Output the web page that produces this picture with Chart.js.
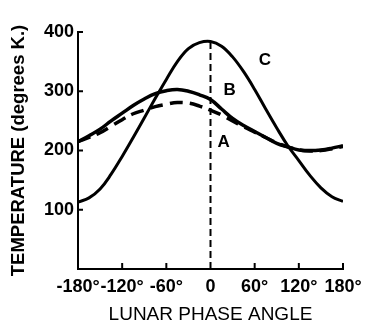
<!DOCTYPE html>
<html>
<head>
<meta charset="utf-8">
<script src="https://cdn.jsdelivr.net/npm/chart.js@4.4.0/dist/chart.umd.min.js"></script>
<style>
html,body{margin:0;padding:0;background:#fff;}
#wrap{width:365px;height:326px;}
</style>
</head>
<body>
<div id="wrap"><canvas id="c" width="365" height="326"></canvas></div>
<script>
const angles = [-180,-165,-150,-135,-120,-105,-90,-75,-60,-45,-30,-15,0,15,30,45,60,75,90,105,120,135,150,165,180];
const tempA = [215,222,230,241,252,262,268,274,278,281,280,275,268,260,250,240,231,222,213,206,201,199,200,203,207];
const tempB = [215,225,236,250,263,276,287,296,301,303,300,294,286,270,254,242,232,222,212,206,201,200,201,204,208];
const tempC = [113,120,135,160,190,222,255,288,320,350,372,382,384,376,358,333,303,270,238,208,183,158,137,122,114];
const xTickValues = [-180,-120,-60,0,60,120,180];
const xTickLabels = ['-180°','-120°','-60°','0','60°','120°','180°'];
const yTickValues = [100,200,300,400];
const yTickLabels = ['100','200','300','400'];
const phaseLine = [{x:0,y:0},{x:0,y:384}];
const curveLabels = [{t:'C',x:74,y:352},{t:'B',x:26,y:302},{t:'A',x:18,y:214}];

const pts = arr => angles.map((a,i)=>({x:a,y:arr[i]}));
const FONT = "'Liberation Sans', Arial, sans-serif";

const decor = {
  id:'decor',
  afterDraw(chart){
    const ctx = chart.ctx, xs = chart.scales.x, ys = chart.scales.y;
    ctx.save();
    ctx.strokeStyle = '#000';
    ctx.lineWidth = 2;
    const x0 = xs.getPixelForValue(-180);
    const y0 = ys.getPixelForValue(0);
    yTickValues.forEach(v=>{
      const y = ys.getPixelForValue(v);
      ctx.beginPath(); ctx.moveTo(x0, y); ctx.lineTo(x0+5, y); ctx.stroke();
    });
    xTickValues.forEach(v=>{
      if (v===0 || v===-180) return;
      const x = xs.getPixelForValue(v);
      ctx.beginPath(); ctx.moveTo(x, y0); ctx.lineTo(x, y0-6); ctx.stroke();
    });
    ctx.fillStyle = '#000';
    ctx.font = "bold 17px " + FONT;
    ctx.textAlign = 'center';
    ctx.textBaseline = 'middle';
    curveLabels.forEach(l=>{
      ctx.fillText(l.t, xs.getPixelForValue(l.x), ys.getPixelForValue(l.y));
    });
    ctx.restore();
  }
};

new Chart(document.getElementById('c'), {
  type:'line',
  data:{
    datasets:[
      {label:'C', data:pts(tempC), borderColor:'#000', borderWidth:3, pointRadius:0, tension:0.4, fill:false},
      {label:'B', data:pts(tempB), borderColor:'#000', borderWidth:3.5, pointRadius:0, tension:0.4, fill:false},
      {label:'A', data:pts(tempA), borderColor:'#000', borderWidth:3.5, borderDash:[13,7], pointRadius:0, tension:0.4, fill:false},
      {label:'phase', data:phaseLine, borderColor:'#000', borderWidth:2, borderDash:[7,4], pointRadius:0, tension:0, fill:false}
    ]
  },
  options:{
    responsive:false,
    animation:false,
    layout:{padding:{top:32,right:22,left:8,bottom:0}},
    plugins:{legend:{display:false}, tooltip:{enabled:false}},
    scales:{
      x:{
        type:'linear', min:-180, max:180,
        afterBuildTicks(s){ s.ticks = xTickValues.map(v=>({value:v})); },
        ticks:{
          color:'#000', font:{family:FONT, size:18, weight:'bold'}, padding:7, maxRotation:0, autoSkip:false,
          callback:(v)=>{ const i = xTickValues.indexOf(v); return i>=0 ? xTickLabels[i] : ''; }
        },
        grid:{display:false, drawTicks:false},
        border:{display:true, color:'#000', width:2},
        title:{display:true, text:'LUNAR PHASE ANGLE', color:'#000', font:{family:FONT, size:19}, padding:{top:1,bottom:0}},
        afterFit(s){ s.height = 326 - 269; s.paddingLeft = 0; s.paddingRight = 0; }
      },
      y:{
        type:'linear', min:0, max:400,
        afterBuildTicks(s){ s.ticks = [0].concat(yTickValues).map(v=>({value:v})); },
        ticks:{
          color:'#000', font:{family:FONT, size:18, weight:'bold'}, padding:4,
          callback:(v)=>{ const i = yTickValues.indexOf(v); return i>=0 ? yTickLabels[i] : ''; }
        },
        grid:{display:false, drawTicks:false},
        border:{display:true, color:'#000', width:2},
        title:{display:true, text:'TEMPERATURE (degrees K.)', color:'#000', font:{family:FONT, size:18.5, weight:'bold'}, padding:{top:0,bottom:2}},
        afterFit(s){ s.width = 70; s.paddingTop = 0; s.paddingBottom = 0; }
      }
    }
  },
  plugins:[decor]
});
</script>
</body>
</html>
